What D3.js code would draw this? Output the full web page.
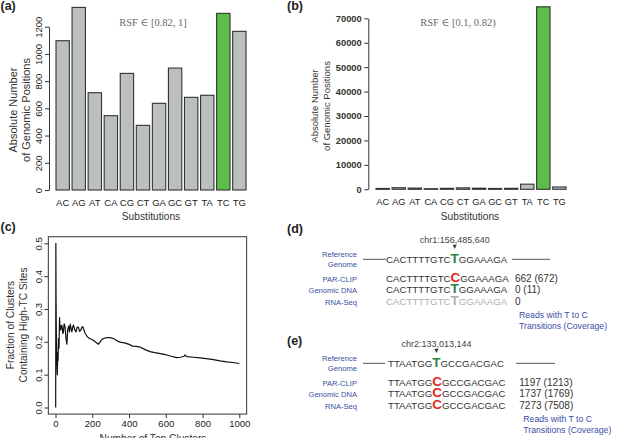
<!DOCTYPE html>
<html><head><meta charset="utf-8">
<script src="https://cdn.jsdelivr.net/npm/d3@7"></script>
<style>
body{margin:0;background:#fff}
svg{display:block}
text{font-family:"Liberation Sans",Arial,Helvetica,sans-serif}
</style>
</head><body>
<svg id="chart" width="619" height="438"></svg>
<script>
// ---------------- DATA ----------------
const substitutions = ["AC","AG","AT","CA","CG","CT","GA","GC","GT","TA","TC","TG"];
const countsHighRSF = [1097,1342,715,546,857,475,637,896,681,696,1298,1166];
const countsMidRSF  = [350,650,500,250,400,600,450,350,400,2100,74700,950];
const highlightSub = "TC";
const rsfLabels = ["RSF \u2208 [0.82, 1]","RSF \u2208 [0.1, 0.82)"];
const ticksA = [0,200,400,600,800,1000,1200];
const ticksB = [0,10000,20000,30000,40000,50000,60000,70000];

const topClusters = [1,2,3,5,7,10,12,14,16,19,22,25,29,32,36,40,43,47,52,57,62,66,71,76,80,85,89,94,98,104,112,118,125,131,138,144,149,155,161,168,174,185,197,206,216,225,234,243,252,265,279,297,315,335,351,375,397,420,440,460,485,514,540,570,605,630,659,680,700,705,714,750,786,820,859,895,931,965,1000];
const fractionHighTC = [0.0,0.5,0.333,0.2,0.143,0.1,0.167,0.143,0.21,0.18,0.274,0.24,0.236,0.25,0.248,0.225,0.23,0.255,0.246,0.21,0.193,0.235,0.248,0.23,0.254,0.24,0.23,0.245,0.251,0.238,0.23,0.245,0.244,0.232,0.236,0.245,0.246,0.235,0.226,0.22,0.215,0.21,0.207,0.205,0.2,0.196,0.193,0.2,0.207,0.211,0.213,0.213,0.21,0.203,0.199,0.197,0.193,0.187,0.186,0.184,0.177,0.17,0.167,0.164,0.16,0.156,0.152,0.153,0.156,0.16,0.155,0.153,0.151,0.149,0.146,0.142,0.139,0.137,0.134];
const ticksCX = [0,200,400,600,800,1000];
const ticksCY = [0,0.1,0.2,0.3,0.4,0.5];

const lociNames = ["chr1:156,485,640","chr2:133,013,144"];
const refSeqParts = [["CACTTTTGTC","T","GGAAAGA"],["TTAATGG","T","GCCGACGAC"]];
const trackNames = ["PAR-CLIP","Genomic DNA","RNA-Seq"];
const observedBases = [["C","T","T"],["C","C","C"]];
const readCounts = [["662 (672)","0 (11)","0"],["1197 (1213)","1737 (1769)","7273 (7508)"]];
const countCaption = ["Reads with T to C","Transitions (Coverage)"];
const panelLetters = ["(a)","(b)","(c)","(d)","(e)"];

// ---------------- STYLE ----------------
const GRAY_BAR = "#bbbfbe", GREEN_BAR = "#5dbd4b", EDGE = "#333";
const BLUE = "#3b4ea6", GREEN_T = "#23854a", RED_C = "#e3261c", LIGHT = "#b0b0b0";
const svg = d3.select("#chart");

function styleAxis(g){
  g.selectAll(".domain").attr("stroke", EDGE);
  g.selectAll(".tick line").attr("stroke", EDGE);
  g.selectAll(".tick text").attr("fill", "#222").style("font-family", '"Liberation Sans",Arial,sans-serif');
}

// ---------------- PANEL A ----------------
const xA = d3.scaleBand().domain(substitutions).range([56, 246.05]).paddingInner(1/6).paddingOuter(0);
const yA = d3.scaleLinear().domain([0,1200]).range([190, 26.7]);
const gA = svg.append("g");
gA.selectAll("rect").data(substitutions).join("rect")
  .attr("x", d => xA(d)).attr("width", xA.bandwidth())
  .attr("y", (d,i) => yA(countsHighRSF[i])).attr("height", (d,i) => yA(0) - yA(countsHighRSF[i]))
  .attr("fill", d => d === highlightSub ? GREEN_BAR : GRAY_BAR)
  .attr("stroke", EDGE).attr("stroke-width", 1.1);
const axA = gA.append("g").attr("transform","translate(49,0)")
  .call(d3.axisLeft(yA).tickValues(ticksA).tickFormat(d3.format("d")).tickSize(4).tickSizeOuter(0))
  .attr("font-size", 9.5);
styleAxis(axA);
axA.selectAll(".tick text").attr("x",0).attr("dy",null).attr("text-anchor","middle")
  .attr("transform","translate(-7.5,0) rotate(-90)");
gA.selectAll(".xl").data(substitutions).join("text").attr("class","xl")
  .attr("x", d => xA(d) + xA.bandwidth()/2).attr("y", 205.5)
  .attr("text-anchor","middle").attr("font-size",9.5).attr("fill","#222").text(d => d);
gA.append("text").attr("x",151).attr("y",219.5).attr("text-anchor","middle").attr("font-size",10.2).attr("fill","#333").text("Substitutions");
gA.append("text").attr("transform","translate(16.5,110) rotate(-90)").attr("text-anchor","middle").attr("font-size",11).attr("fill","#333").text("Absolute Number");
gA.append("text").attr("transform","translate(29.5,110) rotate(-90)").attr("text-anchor","middle").attr("font-size",11).attr("fill","#333").text("of Genomic Positions");
gA.append("text").attr("x",153).attr("y",26).attr("text-anchor","middle").attr("font-size",10.5)
  .style("font-family",'"Liberation Serif","DejaVu Serif",serif').attr("fill","#6a6a6a").text(rsfLabels[0]);

// ---------------- PANEL B ----------------
const xB = d3.scaleBand().domain(substitutions).range([376, 566.05]).paddingInner(1/6).paddingOuter(0);
const yB = d3.scaleLinear().domain([0,70000]).range([189.3, 18.3]);
const gB = svg.append("g");
gB.selectAll("rect").data(substitutions).join("rect")
  .attr("x", d => xB(d)).attr("width", xB.bandwidth())
  .attr("y", (d,i) => yB(countsMidRSF[i])).attr("height", (d,i) => yB(0) - yB(countsMidRSF[i]))
  .attr("fill", d => d === highlightSub ? GREEN_BAR : GRAY_BAR)
  .attr("stroke", EDGE).attr("stroke-width", 1.1);
const axB = gB.append("g").attr("transform","translate(368.3,0)")
  .call(d3.axisLeft(yB).tickValues(ticksB).tickFormat(d3.format("d")).tickSize(4).tickSizeOuter(0).tickPadding(2.6))
  .attr("font-size", 9.3);
styleAxis(axB);
axB.selectAll(".tick text").attr("font-weight","bold").attr("fill","#333");
gB.selectAll(".xl").data(substitutions).join("text").attr("class","xl")
  .attr("x", d => xB(d) + xB.bandwidth()/2).attr("y", 204.5)
  .attr("text-anchor","middle").attr("font-size",9.3).attr("fill","#222").text(d => d);
gB.append("text").attr("x",470).attr("y",219.5).attr("text-anchor","middle").attr("font-size",10.2).attr("fill","#333").text("Substitutions");
gB.append("text").attr("transform","translate(318,106) rotate(-90)").attr("text-anchor","middle").attr("font-size",9.5).attr("fill","#333").text("Absolute Number");
gB.append("text").attr("transform","translate(329.5,106) rotate(-90)").attr("text-anchor","middle").attr("font-size",9.5).attr("fill","#333").text("of Genomic Positions");
gB.append("text").attr("x",458).attr("y",26).attr("text-anchor","middle").attr("font-size",10.5)
  .style("font-family",'"Liberation Serif","DejaVu Serif",serif').attr("fill","#6a6a6a").text(rsfLabels[1]);

// ---------------- PANEL C ----------------
const xC = d3.scaleLinear().domain([0,1000]).range([55.5, 239.3]);
const yC = d3.scaleLinear().domain([0,0.5]).range([407.5, 243.3]);
const gC = svg.append("g");
const bx0 = xC(-39), bx1 = xC(1040), by0 = yC(0.52), by1 = yC(-0.02);
gC.append("rect").attr("x",bx0).attr("y",by0).attr("width",bx1-bx0).attr("height",by1-by0)
  .attr("fill","none").attr("stroke",EDGE).attr("stroke-width",1);
const axCx = gC.append("g").attr("transform",`translate(0,${by1})`)
  .call(d3.axisBottom(xC).tickValues(ticksCX).tickFormat(d3.format("d")).tickSize(4).tickPadding(2.5)).attr("font-size",9.5);
axCx.select(".domain").remove(); styleAxis(axCx);
const axCy = gC.append("g").attr("transform",`translate(${bx0},0)`)
  .call(d3.axisLeft(yC).tickValues(ticksCY).tickFormat(d3.format(".1f")).tickSize(4)).attr("font-size",9.5);
axCy.select(".domain").remove(); styleAxis(axCy);
axCy.selectAll(".tick text").attr("x",0).attr("dy",null).attr("text-anchor","middle")
  .attr("transform","translate(-6.5,0) rotate(-90)");
gC.append("path").datum(topClusters)
  .attr("d", d3.line().x(d => xC(d)).y((d,i) => yC(fractionHighTC[i])))
  .attr("fill","none").attr("stroke","#111").attr("stroke-width",1.2).attr("stroke-linejoin","round");
gC.append("text").attr("x",153).attr("y",442).attr("text-anchor","middle").attr("font-size",10.2).attr("fill","#333").text("Number of Top Clusters");
gC.append("text").attr("transform","translate(14,325) rotate(-90)").attr("text-anchor","middle").attr("font-size",10.2).attr("fill","#333").text("Fraction of Clusters");
gC.append("text").attr("transform","translate(27,325) rotate(-90)").attr("text-anchor","middle").attr("font-size",10.2).attr("fill","#333").text("Containing High-TC Sites");

// ---------------- PANELS D / E ----------------
const locusLayout = [
  {base:263.3, seqX:386, countX:515, lineL:[363,386], lineR:[512,550]},
  {base:367.3, seqX:388, countX:519.3, lineL:[363,385], lineR:[516,555]}
];
function drawLocus(k){
  const L = locusLayout[k];
  const g = svg.append("g");
  const parts = refSeqParts[k];
  const rowOffsets = [0, 18.2, 29.6, 41.2];
  const rows = [{name:null, base:parts[1], count:null}].concat(trackNames.map((n,i)=>({name:n, base:observedBases[k][i], count:readCounts[k][i]})));
  let refText = null;
  rows.forEach((r,i) => {
    const y = L.base + rowOffsets[i];
    const faded = r.count === "0";
    const baseColor = r.base === "C" ? RED_C : (faded ? LIGHT : GREEN_T);
    const t = g.append("text").attr("x",L.seqX).attr("y",y).attr("font-size",9.7).attr("fill", faded ? LIGHT : "#333");
    t.append("tspan").text(parts[0]);
    t.append("tspan").attr("font-size",13.5).attr("font-weight","bold").attr("fill",baseColor).text(r.base);
    t.append("tspan").text(parts[2]);
    if (i === 0) refText = t;
    if (r.name) {
      g.append("text").attr("x",357).attr("y",y).attr("text-anchor","end").attr("font-size",7.6).attr("fill",BLUE).text(r.name);
      g.append("text").attr("x",L.countX).attr("y",y).attr("font-size",10).attr("fill","#333").text(r.count);
    }
  });
  const ry = L.base;
  g.append("text").attr("x",357).attr("y",ry-6.6).attr("text-anchor","end").attr("font-size",7.6).attr("fill",BLUE).text("Reference");
  g.append("text").attr("x",357).attr("y",ry+3.6).attr("text-anchor","end").attr("font-size",7.6).attr("fill",BLUE).text("Genome");
  const ly = ry - 4;
  [L.lineL, L.lineR].forEach(s => g.append("line").attr("x1",s[0]).attr("x2",s[1]).attr("y1",ly).attr("y2",ly).attr("stroke","#555").attr("stroke-width",1));
  const ext = refText.node().getExtentOfChar(parts[0].length);
  const cx = ext.x + ext.width/2;
  g.append("path").attr("d",`M${cx-2},${ry-18.5}L${cx+2},${ry-18.5}L${cx},${ry-14.2}Z`).attr("fill","#333");
  g.append("text").attr("x",cx).attr("y",ry-20.5).attr("text-anchor","middle").attr("font-size",9).attr("fill","#444").text(lociNames[k]);
  g.append("text").attr("x",L.countX+4).attr("y",ry+54.5).attr("font-size",8.7).attr("fill",BLUE).text(countCaption[0]);
  g.append("text").attr("x",L.countX+4).attr("y",ry+65.5).attr("font-size",8.7).attr("fill",BLUE).text(countCaption[1]);
}
drawLocus(0); drawLocus(1);

// ---------------- PANEL LETTERS ----------------
const letterPos = [[0.5,9.5],[287,9.5],[0.5,231],[287,233],[287,344.5]];
svg.selectAll(".pl").data(panelLetters).join("text").attr("class","pl")
  .attr("x",(d,i)=>letterPos[i][0]).attr("y",(d,i)=>letterPos[i][1])
  .attr("font-size",12.5).attr("font-weight","bold").attr("fill","#222").text(d=>d);
</script>
</body></html>
